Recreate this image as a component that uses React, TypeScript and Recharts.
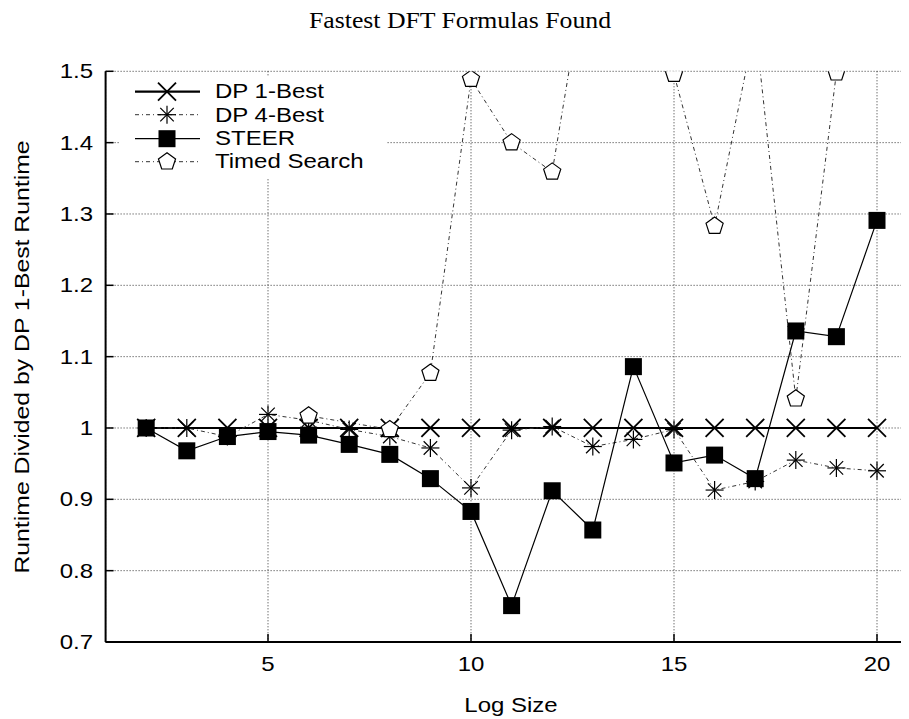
import React from "react";
import { LineChart, Line, XAxis, YAxis, CartesianGrid, Legend } from "recharts";

// Log Size on the x axis, runtime ratio on the y axis
const logSize = [2, 3, 4, 5, 6, 7, 8, 9, 10, 11, 12, 13, 14, 15, 16, 17, 18, 19, 20];
const dp1Best = [1, 1, 1, 1, 1, 1, 1, 1, 1, 1, 1, 1, 1, 1, 1, 1, 1, 1, 1];
const dp4Best = [1, 1, 0.988, 1.019, 1.011, 0.998, 0.988, 0.972, 0.916, 0.997, 1.002, 0.974, 0.984, 0.998, 0.913, 0.925, 0.955, 0.944, 0.94];
const steer = [1, 0.968, 0.988, 0.995, 0.99, 0.977, 0.963, 0.929, 0.883, 0.751, 0.912, 0.857, 1.086, 0.951, 0.962, 0.929, 1.136, 1.128, 1.291];
const timedSearch = [null, null, null, null, 1.017, null, 0.998, 1.077, 1.489, 1.4, 1.359, 1.7, 1.65, 1.496, 1.283, 1.565, 1.041, 1.498, null];

const seriesNames = ["DP 1-Best", "DP 4-Best", "STEER", "Timed Search"];
const xTicks = [5, 10, 15, 20];
const yTicks = [0.7, 0.8, 0.9, 1, 1.1, 1.2, 1.3, 1.4, 1.5];

const Y_MAX = 1.5;
const SX = 1.2;
const SANS = "'Liberation Sans', Arial, Helvetica, sans-serif";
const SERIF = "'Liberation Serif', 'Times New Roman', serif";

const data = logSize.map((x, i) => ({
  x,
  dp1: dp1Best[i],
  dp4: dp4Best[i],
  steer: steer[i],
  timed: timedSearch[i],
}));

type Kind = "cross" | "star" | "square" | "pentagon";

function Marker({ kind, cx, cy }: { kind: Kind; cx: number; cy: number }) {
  if (kind === "cross") {
    const r = 9;
    return (
      <g stroke="#000" strokeWidth={1.8}>
        <line x1={cx - r} y1={cy - r} x2={cx + r} y2={cy + r} />
        <line x1={cx - r} y1={cy + r} x2={cx + r} y2={cy - r} />
      </g>
    );
  }
  if (kind === "star") {
    const r = 9;
    const d = r * 0.75;
    return (
      <g stroke="#000" strokeWidth={1.2}>
        <line x1={cx - d} y1={cy - d} x2={cx + d} y2={cy + d} />
        <line x1={cx - d} y1={cy + d} x2={cx + d} y2={cy - d} />
        <line x1={cx} y1={cy - r} x2={cx} y2={cy + r} />
        <line x1={cx - r} y1={cy} x2={cx + r} y2={cy} />
      </g>
    );
  }
  if (kind === "square") {
    return <rect x={cx - 8.5} y={cy - 8.5} width={17} height={17} fill="#000" />;
  }
  const r = 9;
  const pts = [0, 1, 2, 3, 4]
    .map((k) => {
      const a = ((-90 + k * 72) * Math.PI) / 180;
      return `${cx + r * Math.cos(a)},${cy + r * Math.sin(a)}`;
    })
    .join(" ");
  return <polygon points={pts} fill="#fff" stroke="#000" strokeWidth={1.2} />;
}

const makeDot = (kind: Kind) => (props: any) => {
  const { cx, cy, value, index } = props;
  if (value == null || cx == null || cy == null || value > Y_MAX + 0.001) {
    return <g key={`e-${kind}-${index}`} />;
  }
  return (
    <g key={`d-${kind}-${index}`}>
      <Marker kind={kind} cx={cx} cy={cy} />
    </g>
  );
};

const legendStyles = [
  { kind: "cross" as Kind, stroke: "#000", width: 2.2, dash: undefined },
  { kind: "star" as Kind, stroke: "#333", width: 1, dash: "4 3 1 3" },
  { kind: "square" as Kind, stroke: "#000", width: 1.2, dash: undefined },
  { kind: "pentagon" as Kind, stroke: "#333", width: 1, dash: "4 3 1 3" },
];

const renderLegend = () => (
  <div style={{ background: "#fff", width: 267, height: 99, paddingTop: 3 }}>
    {seriesNames.map((name, i) => {
      const s = legendStyles[i];
      return (
        <div key={name} style={{ display: "flex", alignItems: "center", height: 23.4 }}>
          <svg width={95} height={23.4} style={{ flex: "none" }}>
            <line x1={15} y1={11.7} x2={80} y2={11.7} stroke={s.stroke} strokeWidth={s.width} strokeDasharray={s.dash} />
            <Marker kind={s.kind} cx={47} cy={11.7} />
          </svg>
          <span
            style={{
              fontFamily: SANS,
              fontSize: 20,
              lineHeight: "23px",
              display: "inline-block",
              transform: `scaleX(${SX})`,
              transformOrigin: "left center",
              whiteSpace: "nowrap",
            }}
          >
            {name}
          </span>
        </div>
      );
    })}
  </div>
);

const XTick = (props: any) => {
  const { x, y, payload } = props;
  return (
    <g transform={`translate(${x},${y})`}>
      <text transform={`scale(${SX},1)`} textAnchor="middle" dy="0.71em" fontFamily={SANS} fontSize={20} fill="#000">
        {payload.value}
      </text>
    </g>
  );
};

const YTick = (props: any) => {
  const { x, y, payload } = props;
  const v = payload.value;
  const label = Math.abs(v - 1) < 1e-9 ? "1" : v.toFixed(1);
  return (
    <g transform={`translate(${x},${y})`}>
      <text transform={`scale(${SX},1)`} textAnchor="end" dy="0.355em" fontFamily={SANS} fontSize={20} fill="#000">
        {label}
      </text>
    </g>
  );
};

export default function App() {
  return (
    <div style={{ position: "relative", width: 901, height: 711, overflow: "hidden", background: "#fff" }}>
      <LineChart width={930} height={711} data={data} margin={{ top: 63.3, right: 20.4, bottom: 37, left: 7.6 }}>
        <CartesianGrid stroke="#333" strokeDasharray="1 2" strokeWidth={1} />
        <XAxis
          dataKey="x"
          type="number"
          domain={[1, 21]}
          ticks={xTicks}
          allowDataOverflow
          height={40}
          tickSize={-8}
          tickMargin={23}
          axisLine={{ stroke: "#000", strokeWidth: 2 }}
          tickLine={{ stroke: "#000", strokeWidth: 1.5 }}
          tick={<XTick />}
        />
        <XAxis
          xAxisId="top"
          orientation="top"
          dataKey="x"
          type="number"
          domain={[1, 21]}
          ticks={xTicks}
          allowDataOverflow
          height={0}
          tickSize={-8}
          axisLine={{ stroke: "#000", strokeWidth: 2 }}
          tickLine={{ stroke: "#000", strokeWidth: 1.5 }}
          tick={false}
        />
        <YAxis
          type="number"
          domain={[0.7, 1.5]}
          ticks={yTicks}
          allowDataOverflow
          width={90}
          tickSize={-8}
          tickMargin={20.6}
          axisLine={{ stroke: "#000", strokeWidth: 2 }}
          tickLine={{ stroke: "#000", strokeWidth: 1.5 }}
          tick={<YTick />}
        />
        <Legend
          layout="vertical"
          align="center"
          verticalAlign="middle"
          content={renderLegend}
          wrapperStyle={{ left: 112, top: 69, width: 267, height: 99 }}
        />
        <Line dataKey="dp1" name={seriesNames[0]} stroke="#000" strokeWidth={2.2} dot={makeDot("cross")} isAnimationActive={false} />
        <Line dataKey="dp4" name={seriesNames[1]} stroke="#333" strokeWidth={1} strokeDasharray="4 3 1 3" dot={makeDot("star")} isAnimationActive={false} />
        <Line dataKey="steer" name={seriesNames[2]} stroke="#000" strokeWidth={1.2} dot={makeDot("square")} isAnimationActive={false} />
        <Line dataKey="timed" name={seriesNames[3]} stroke="#333" strokeWidth={1} strokeDasharray="4 3 1 3" connectNulls dot={makeDot("pentagon")} isAnimationActive={false} />
      </LineChart>
      <svg width={930} height={711} style={{ position: "absolute", left: 0, top: 0, pointerEvents: "none" }}>
        <text transform={`translate(452,20) scale(1.12,1)`} textAnchor="middle" fontFamily={SERIF} fontSize={23} fill="#000">
          Fastest DFT Formulas Found
        </text>
        <text transform={`translate(503,704) scale(${SX},1)`} textAnchor="middle" fontFamily={SANS} fontSize={20} fill="#000">
          Log Size
        </text>
        <text transform={`translate(21,349) rotate(-90) scale(1.18,1)`} textAnchor="middle" fontFamily={SANS} fontSize={21} fill="#000">
          Runtime Divided by DP 1-Best Runtime
        </text>
      </svg>
    </div>
  );
}
